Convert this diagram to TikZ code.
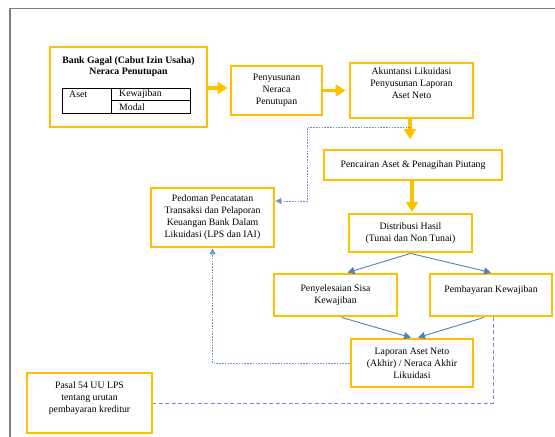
\documentclass[tikz,border=0pt]{standalone}
\usepackage{fontspec}
\setmainfont{Liberation Serif}
\usetikzlibrary{arrows.meta,calc}
\definecolor{gold}{HTML}{FFC000}
\definecolor{flowblue}{HTML}{4F81BD}
\definecolor{dashblue}{HTML}{6F93CC}
\definecolor{framegray}{HTML}{7F7F7F}
\begin{document}
\begin{tikzpicture}[x=1pt,y=-1pt,
  box/.style={draw=gold, line width=2.8pt, fill=white, inner sep=0pt,
    align=center, font=\fontsize{9.8}{12}\selectfont},
  txt/.style={inner sep=0pt, align=center, font=\fontsize{9.8}{12}\selectfont},
  cell/.style={draw=black, line width=0.8pt},
  mainflow/.style={draw=gold, line width=3.2pt,
    -{Triangle[length=10pt,width=12pt]}},
  subflow/.style={draw=flowblue, line width=0.9pt,
    -{Triangle[length=7pt,width=7pt]}},
  guide/.style={draw=dashblue, line width=0.9pt, dash pattern=on 1.6pt off 1.2pt},
  guidelong/.style={draw=dashblue, line width=0.9pt, dash pattern=on 4pt off 2.5pt}]
\useasboundingbox (0,0) rectangle (555,437);
% page frame
\draw[framegray, line width=1.5pt] (555,8.5) -- (10,8.5) -- (10,437);

% closing balance sheet of the failed bank
\node[box, minimum width=157pt, minimum height=80pt] (b1) at (128.5,87) {};
\node[txt, font=\fontsize{9.8}{11.5}\selectfont\bfseries] (b1title) at (128.5,66.5)
  {Bank Gagal (Cabut Izin Usaha)\\Neraca Penutupan};
\draw[cell] (62,88) rectangle (190,113);
\draw[cell] (111,88) -- (111,113);
\draw[cell] (111,100.7) -- (190,100.7);
\node[txt, anchor=west] (aset) at (69,94.5) {Aset};
\node[txt, anchor=west] (kew) at (119,94.5) {Kewajiban};
\node[txt, anchor=west] (modal) at (119,107) {Modal};

\node[box, minimum width=91pt, minimum height=49pt] (b2) at (276.5,90.5)
  {Penyusunan\\Neraca\\Penutupan};
\node[box, minimum width=123pt, minimum height=55pt] (b3) at (411.5,90.5)
  {Akuntansi Likuidasi\\Penyusunan Laporan\\Aset Neto\\[3pt]};
\node[box, minimum width=178pt, minimum height=30pt] (b4) at (413,165)
  {Pencairan Aset \& Penagihan Piutang};
\node[box, minimum width=123pt, minimum height=38pt] (b5) at (410.5,233)
  {Distribusi Hasil\\(Tunai dan Non Tunai)};
\node[box, minimum width=123pt, minimum height=59pt] (ped) at (212.5,217.5)
  {Pedoman Pencatatan\\Transaksi dan Pelaporan\\Keuangan Bank Dalam\\Likuidasi (LPS dan IAI)};
\node[box, minimum width=123pt, minimum height=42pt] (b6) at (335.5,295)
  {Penyelesaian Sisa\\Kewajiban};
\node[box, minimum width=122pt, minimum height=42pt] (b7) at (491,295)
  {Pembayaran Kewajiban\\\mbox{}};
\node[box, minimum width=122pt, minimum height=48pt] (b8) at (412,363)
  {Laporan Aset Neto\\(Akhir) / Neraca Akhir\\Likuidasi};
\node[box, minimum width=125pt, minimum height=60pt] (pasal) at (89.5,403)
  {Pasal 54 UU LPS\\tentang urutan\\pembayaran kreditur\\\mbox{}};

% main sequence
\draw[mainflow, shorten >=2pt] (b1.east |- 0,88) -- (b2.west |- 0,88);
\draw[mainflow, shorten >=3pt] (b2.east) -- (b3.west);
\draw[mainflow, shorten >=11pt] (b3.south -| 410,0) -- (410,150);
\draw[mainflow, shorten >=2pt] (b4.south -| 412,0) -- (412,214);

% distribution branches
\draw[subflow] (b5.south) -- ($(b6.north)+(12,0)$);
\draw[subflow] (b5.south) -- (b7.north);
\draw[subflow] ($(b6.south)+(6,0)$) -- ($(b8.north)+(-1,0)$);
\draw[subflow] ($(b7.south)+(-7,0)$) -- ($(b8.north)+(6,0)$);

% reference links
\coordinate (tap) at (410,127);
\draw[guide, -{Triangle[length=6pt,width=6pt]}] (tap) -- (307.5,127) -- (307.5,201)
  -- (ped.east |- 0,201);
\draw[guide, -{Triangle[length=6pt,width=6pt]}] (b8.west) -| (ped.south);
\draw[guidelong] ($(b7.south)+(2,0)$) |- (pasal.east);
\end{tikzpicture}
\end{document}
